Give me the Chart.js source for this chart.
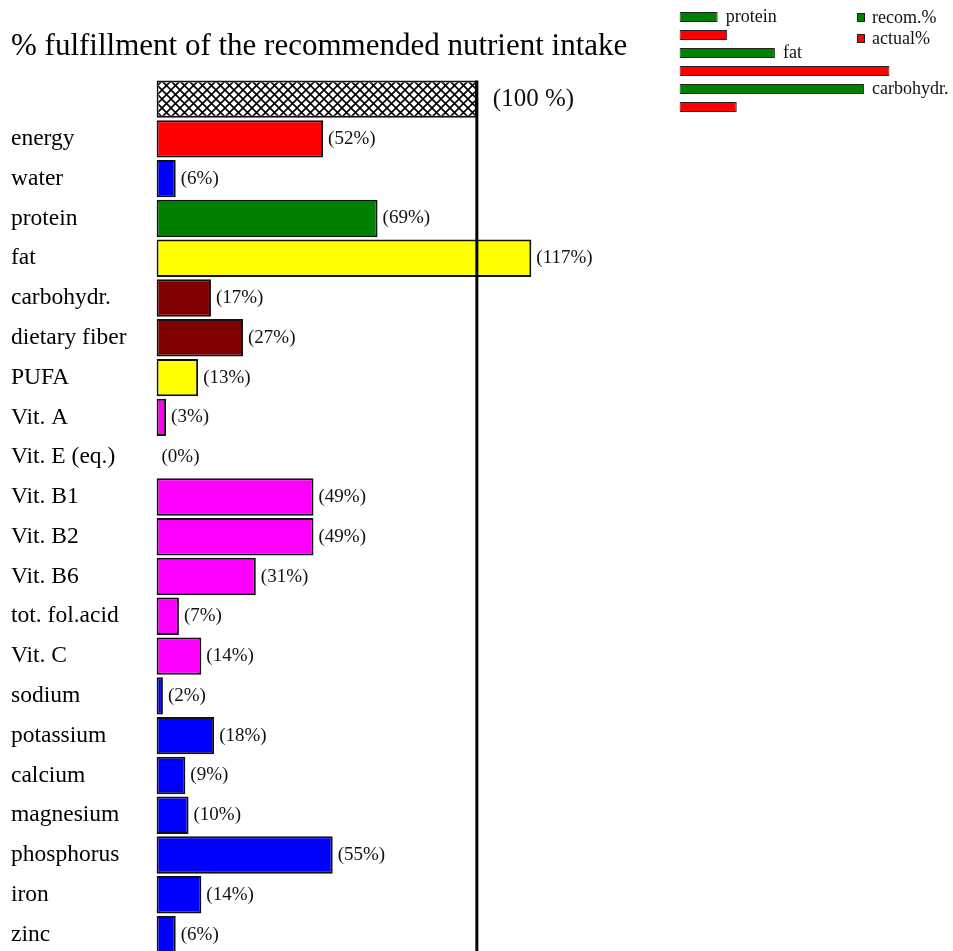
<!DOCTYPE html>
<html>
<head>
<meta charset="utf-8">
<script src="https://cdn.jsdelivr.net/npm/chart.js@4.4.1/dist/chart.umd.min.js"></script>
<style>
  html, body { margin: 0; padding: 0; background: #fff; overflow: hidden; }
  #main { position: absolute; left: 0; top: 0; }
  #split { position: absolute; left: 672px; top: 0; }
</style>
</head>
<body>
<canvas id="main" width="953" height="960"></canvas>
<canvas id="split" width="281" height="120"></canvas>
<script>
// nutrients and their % of the recommended intake
const nutrients = ['energy', 'water', 'protein', 'fat', 'carbohydr.', 'dietary fiber', 'PUFA',
  'Vit. A', 'Vit. E (eq.)', 'Vit. B1', 'Vit. B2', 'Vit. B6', 'tot. fol.acid', 'Vit. C',
  'sodium', 'potassium', 'calcium', 'magnesium', 'phosphorus', 'iron', 'zinc'];
const fulfillment = [52, 6, 69, 117, 17, 27, 13, 3, 0, 49, 49, 31, 7, 14, 2, 18, 9, 10, 55, 14, 6];
const barColors = ['#ff0000', '#0000ff', '#008000', '#ffff00', '#800000', '#800000', '#ffff00',
  '#ff00ff', '#ff00ff', '#ff00ff', '#ff00ff', '#ff00ff', '#ff00ff', '#ff00ff',
  '#0000ff', '#0000ff', '#0000ff', '#0000ff', '#0000ff', '#0000ff', '#0000ff'];

// energy split: recommended vs actual share
const splitLabels = ['protein', 'fat', 'carbohydr.'];
const recomPercent = [12, 30, 58];
const actualPercent = [15, 66, 18];

const serif = "'Liberation Serif', 'Times New Roman', serif";

const mainCtx = document.getElementById('main').getContext('2d');

// crosshatch fill for the 100 % reference bar
function crossHatch(ctx) {
  const c = document.createElement('canvas');
  c.width = 9; c.height = 9;
  const g = c.getContext('2d');
  g.fillStyle = '#fff';
  g.fillRect(0, 0, 9, 9);
  g.strokeStyle = '#000';
  g.lineWidth = 1.6;
  g.beginPath();
  g.moveTo(-1, -1); g.lineTo(10, 10);
  g.moveTo(-1, 10); g.lineTo(10, -1);
  g.stroke();
  return ctx.createPattern(c, 'repeat');
}

const rows = [''].concat(nutrients);
const values = [100].concat(fulfillment);
const fills = [crossHatch(mainCtx)].concat(barColors);

const valueLabels = {
  id: 'valueLabels',
  afterDatasetsDraw(chart) {
    const ctx = chart.ctx;
    const meta = chart.getDatasetMeta(0);
    const data = chart.data.datasets[0].data;
    ctx.save();
    ctx.textBaseline = 'middle';
    ctx.fillStyle = '#111';
    meta.data.forEach((bar, i) => {
      if (i === 0) {
        ctx.font = '25px ' + serif;
        ctx.fillText('(' + data[i] + ' %)', bar.x + 16, bar.y);
      } else {
        ctx.font = '19px ' + serif;
        ctx.fillText('(' + data[i] + '%)', bar.x + 5, bar.y);
      }
    });
    ctx.restore();
  }
};

// vertical line at 100 %
const limitLine = {
  id: 'limitLine',
  afterDatasetsDraw(chart) {
    const ctx = chart.ctx;
    const x = chart.scales.x.getPixelForValue(100);
    const top = chart.getDatasetMeta(0).data[0];
    ctx.save();
    ctx.strokeStyle = '#000';
    ctx.lineWidth = 3;
    ctx.beginPath();
    ctx.moveTo(x, top.y - top.height / 2);
    ctx.lineTo(x, chart.height);
    ctx.stroke();
    ctx.restore();
  }
};

new Chart(mainCtx, {
  type: 'bar',
  data: {
    labels: rows,
    datasets: [{
      data: values,
      backgroundColor: fills,
      borderColor: '#111',
      borderWidth: c => (c.raw === 0 ? 0 : 2),
      borderSkipped: false,
      barPercentage: 0.94,
      categoryPercentage: 1
    }]
  },
  options: {
    indexAxis: 'y',
    responsive: false,
    animation: false,
    layout: { padding: { left: 11, right: 2, top: 0, bottom: 5.5 } },
    scales: {
      x: { display: false, min: 0, max: 248 },
      y: {
        grid: { display: false },
        border: { display: false },
        ticks: { autoSkip: false, crossAlign: 'far', padding: 0, color: '#000', font: { family: serif, size: 23.5 } },
        afterFit: s => { s.width = 145.5; s.paddingTop = 0; s.paddingBottom = 0; }
      }
    },
    plugins: {
      legend: { display: false },
      tooltip: { enabled: false },
      title: {
        display: true,
        align: 'start',
        text: '% fulfillment of the recommended nutrient intake',
        color: '#000',
        font: { family: serif, size: 31, weight: 'normal' },
        padding: { top: 28.5, bottom: 13.5 }
      }
    }
  },
  plugins: [valueLabels, limitLine]
});

// small chart top right: category names and legend
const splitText = {
  id: 'splitText',
  afterDatasetsDraw(chart) {
    const ctx = chart.ctx;
    const recom = chart.getDatasetMeta(0).data;
    ctx.save();
    ctx.font = '18px ' + serif;
    ctx.fillStyle = '#111';
    ctx.textBaseline = 'middle';
    recom.forEach((bar, i) => {
      ctx.fillText(chart.data.labels[i], bar.x + 8, bar.y);
    });
    chart.data.datasets.forEach((ds, i) => {
      const y = 13 + i * 21;
      ctx.fillStyle = ds.backgroundColor;
      ctx.fillRect(185, y, 8, 9);
      ctx.strokeStyle = '#222';
      ctx.lineWidth = 1;
      ctx.strokeRect(185.5, y + 0.5, 7, 8);
      ctx.fillStyle = '#111';
      ctx.fillText(ds.label, 200, y + 5);
    });
    ctx.restore();
  }
};

new Chart(document.getElementById('split').getContext('2d'), {
  type: 'bar',
  data: {
    labels: splitLabels,
    datasets: [
      { label: 'recom.%', data: recomPercent, backgroundColor: '#008000' },
      { label: 'actual%', data: actualPercent, backgroundColor: '#ff0000' }
    ]
  },
  options: {
    indexAxis: 'y',
    responsive: false,
    animation: false,
    datasets: { bar: { borderColor: '#222', borderWidth: 1, borderSkipped: false, barPercentage: 0.55, categoryPercentage: 1 } },
    layout: { padding: { left: 7.5, right: 0, top: 8, bottom: 4 } },
    scales: {
      x: { display: false, min: 0, max: 86 },
      y: { display: false }
    },
    plugins: { legend: { display: false }, tooltip: { enabled: false } }
  },
  plugins: [splitText]
});
</script>
</body>
</html>
